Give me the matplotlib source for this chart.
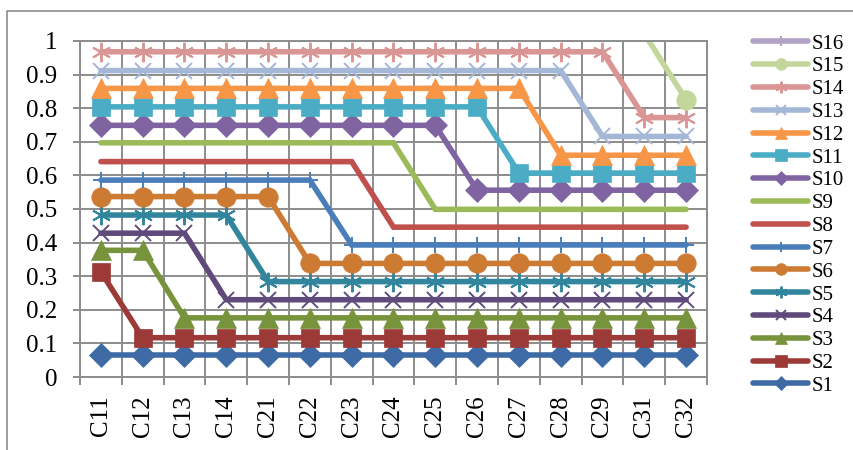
import numpy as np
import matplotlib
matplotlib.use('Agg')
import matplotlib.pyplot as plt
from matplotlib.lines import Line2D

plt.rcParams['font.family'] = ['Liberation Serif', 'DejaVu Serif']

# categorias del eje x
categorias = ['C11', 'C12', 'C13', 'C14', 'C21', 'C22', 'C23', 'C24',
              'C25', 'C26', 'C27', 'C28', 'C29', 'C31', 'C32']

# valores de cada serie
s1 = [0.065] * 15
s2 = [0.313] + [0.117] * 14
s3 = [0.377, 0.377] + [0.176] * 13
s4 = [0.428] * 3 + [0.230] * 12
s5 = [0.482] * 4 + [0.284] * 11
s6 = [0.537] * 5 + [0.338] * 10
s7 = [0.586] * 6 + [0.393] * 9
s8 = [0.641] * 7 + [0.446] * 8
s9 = [0.697] * 8 + [0.499] * 7
s10 = [0.749] * 9 + [0.556] * 6
s11 = [0.804] * 10 + [0.607] * 5
s12 = [0.859] * 11 + [0.660] * 4
s13 = [0.912] * 12 + [0.716] * 3
s14 = [0.968] * 13 + [0.772] * 2
s15 = [1.022] * 14 + [0.825]
s16 = [1.078] * 15

series = [s1, s2, s3, s4, s5, s6, s7, s8, s9, s10, s11, s12, s13, s14, s15, s16]
nombres = ['S%d' % (i + 1) for i in range(16)]

colores = ['#3E6BA5', '#9C3A37', '#77933C', '#604A7B', '#31859C', '#CD7A33',
           '#4A7EBB', '#C0504D', '#9BBB59', '#8064A2', '#4BACC6', '#F79646',
           '#A5B7D6', '#D99694', '#C3D69B', '#B3A2C7']
marcadores = ['D', 's', '^', 'x', (6, 2, 0), 'o', '+', None, None,
              'D', 's', '^', 'x', (6, 2, 0), 'o', '+']
tamanos = {'D': 12, 's': 13.5, '^': 14, 'x': 12, 'o': 14, '+': 12}

fig = plt.figure(figsize=(8.54, 4.5), dpi=100)
ax = fig.add_axes([80 / 854, 1 - 377 / 450, 627 / 854, 336 / 450])

x = np.arange(len(categorias))
handles = []
for vals, nom, col, m in zip(series, nombres, colores, marcadores):
    if m is None:
        ms = 0
    elif isinstance(m, tuple):
        ms = 14
    else:
        ms = tamanos[m]
    fino = m in ('x', '+') or isinstance(m, tuple)
    kw = dict(color=col, lw=4, marker=m, markersize=ms,
              markeredgewidth=1.4 if fino else 0.5,
              markerfacecolor=col, markeredgecolor=col,
              solid_capstyle='round', solid_joinstyle='miter')
    vals = np.array(vals)
    # la linea se recorta en el borde; los marcadores fuera de rango no se dibujan
    ax.plot(x, vals, color=col, lw=4, solid_capstyle='round',
            solid_joinstyle='miter')
    if m is not None:
        dentro = vals <= 1
        ax.plot(x[dentro], vals[dentro], ls='none', marker=m, markersize=ms,
                markeredgewidth=kw['markeredgewidth'],
                markerfacecolor=col, markeredgecolor=col)
    handles.append(Line2D([], [], label=nom, **kw))

gris = '#8C8C8C'
ax.set_xlim(-0.5, len(categorias) - 0.5)
ax.set_ylim(0, 1)
ax.set_yticks(np.arange(0, 1.01, 0.1))
ax.set_yticklabels(['0', '0.1', '0.2', '0.3', '0.4', '0.5', '0.6', '0.7',
                    '0.8', '0.9', '1'])
ax.set_xticks(x)
ax.set_xticklabels(categorias, rotation=90, va='top')
ax.set_xticks(np.arange(-0.5, len(categorias), 1), minor=True)

ax.grid(True, axis='y', which='major', color=gris, lw=1.4)
ax.grid(True, axis='x', which='minor', color=gris, lw=1.4)
ax.set_axisbelow(True)
ax.tick_params(axis='y', length=5, width=1.4, color=gris, pad=11.5, labelsize=18)
ax.tick_params(axis='x', which='major', length=0, pad=13, labelsize=18)
ax.tick_params(axis='x', which='minor', length=6, width=1.4, color=gris)
for lado in ['left', 'bottom', 'top', 'right']:
    ax.spines[lado].set_color(gris)
    ax.spines[lado].set_linewidth(1.4)

fig.legend(handles=handles[::-1], loc='upper left',
           bbox_to_anchor=(753 / 854, 1 - 34 / 450), frameon=False,
           fontsize=15, handlelength=2.65, handletextpad=0.15,
           labelspacing=0.155, markerscale=0.6, borderaxespad=0, borderpad=0)

# marco exterior del grafico
fig.add_artist(Line2D([7 / 854, 7 / 854, 1], [0, 1 - 11 / 450, 1 - 11 / 450],
                      color=gris, lw=1.2, transform=fig.transFigure))

fig.savefig('out.png', dpi=100)
